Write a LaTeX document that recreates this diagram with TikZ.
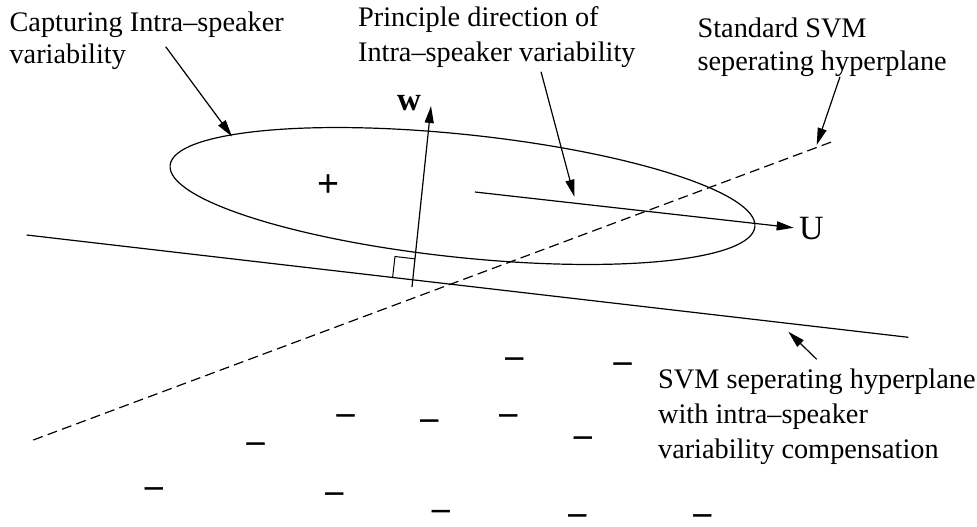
\documentclass[tikz,border=0pt]{standalone}
\usepackage{fontspec}
\setmainfont{Liberation Serif}
\newfontfamily\markfont[FakeBold=1.6]{Liberation Serif}
\usetikzlibrary{arrows.meta,calc}
\begin{document}
\begin{tikzpicture}[x=1pt,y=-1pt,line width=1.2pt,
  lbl/.style={anchor=base west,inner sep=0pt,align=left},
  big/.style={inner sep=0pt,anchor=base,font=\markfont\fontsize{38}{40}\selectfont},
  arr/.style={-{Triangle[length=17pt,width=9pt]}},
  hyper/.style={line width=1.2pt},
  std/.style={line width=1.2pt,dash pattern=on 10pt off 5.3pt}]
\useasboundingbox (0,0) rectangle (977,527);

% ellipse capturing intra-speaker variability
\draw[rotate around={-6:(462.5,196)}] (462.5,196) ellipse [x radius=294, y radius=61.5];

% hyperplanes
\coordinate (s1) at (26.7,235);
\coordinate (s2) at (908.3,337.3);
\draw[hyper] (s1) -- (s2);
\coordinate (d1) at (33.3,440);
\coordinate (d2) at (834,141);
\draw[std] (d1) -- (d2);

% normal vector w and right angle mark
\coordinate (w0) at (412,287);
\coordinate (w1) at (431,106);
\draw[arr] (w0) -- (w1);
\coordinate (ra1) at (392.6,277.4);
\coordinate (ra2) at (395.0,256.5);
\coordinate (ra3) at (415.4,258.9);
\draw[line width=1pt] (ra1) -- (ra2) -- (ra3);
\node[inner sep=0pt,anchor=base,font=\bfseries\fontsize{33}{35}\selectfont] (w) at (409,110.5) {w};

% principal direction U
\node[inner sep=0pt,anchor=base,font=\fontsize{34}{36}\selectfont] (U) at (811.5,239.3) {U};
\coordinate (u0) at (475,192);
\draw[arr,shorten >=5pt] (u0) -- (U.west);

% class markers (placed at the centre of each sign)
\newcommand{\negmark}{\smash{\raisebox{-0.253em}{−}}}
\node[big] (plus) at (328,186.5) {\smash{\raisebox{-0.253em}{+}}};
\node[big] (m1) at (514.2,361.7) {\negmark};
\node[big] (m2) at (622.5,366.7) {\negmark};
\node[big] (m3) at (345.5,418.3) {\negmark};
\node[big] (m4) at (508.2,418.3) {\negmark};
\node[big] (m5) at (429.3,423.7) {\negmark};
\node[big] (m6) at (255.5,446.7) {\negmark};
\node[big] (m7) at (582.8,440.7) {\negmark};
\node[big] (m8) at (153.7,491.3) {\negmark};
\node[big] (m9) at (334.2,496.7) {\negmark};
\node[big] (m10) at (440.7,514) {\negmark};
\node[big] (m11) at (577.2,518.3) {\negmark};
\node[big] (m12) at (702.2,518.3) {\negmark};

% labels (anchored at the baseline of their last line)
\node[lbl,font=\fontsize{28.3}{31.6}\selectfont] (cap) at (9,63.3) {Capturing Intra–speaker\\variability};
\node[lbl,font=\fontsize{28.3}{35.5}\selectfont] (pri) at (357.5,61.5) {Principle direction of\\Intra–speaker variability};
\node[lbl,font=\fontsize{28.3}{33}\selectfont] (stl) at (697,70.3) {Standard SVM\\seperating hyperplane};
\node[lbl,font=\fontsize{28.3}{35}\selectfont] (svl) at (657.5,458.3) {SVM seperating hyperplane\\with intra–speaker\\variability compensation};

% label arrows
\coordinate (ca) at (165.7,46.7);
\coordinate (cb) at (232,136.5);
\draw[arr] (ca) -- (cb);
\coordinate (pa) at (541,71.7);
\coordinate (pb) at (574.3,196.7);
\draw[arr] (pa) -- (pb);
\coordinate (sa) at (840,76.7);
\coordinate (sb) at (816.7,145);
\draw[arr] (sa) -- (sb);
\coordinate (va) at (816.7,359.3);
\coordinate (vb) at (788.3,331.7);
\draw[arr] (va) -- (vb);
\end{tikzpicture}
\end{document}
